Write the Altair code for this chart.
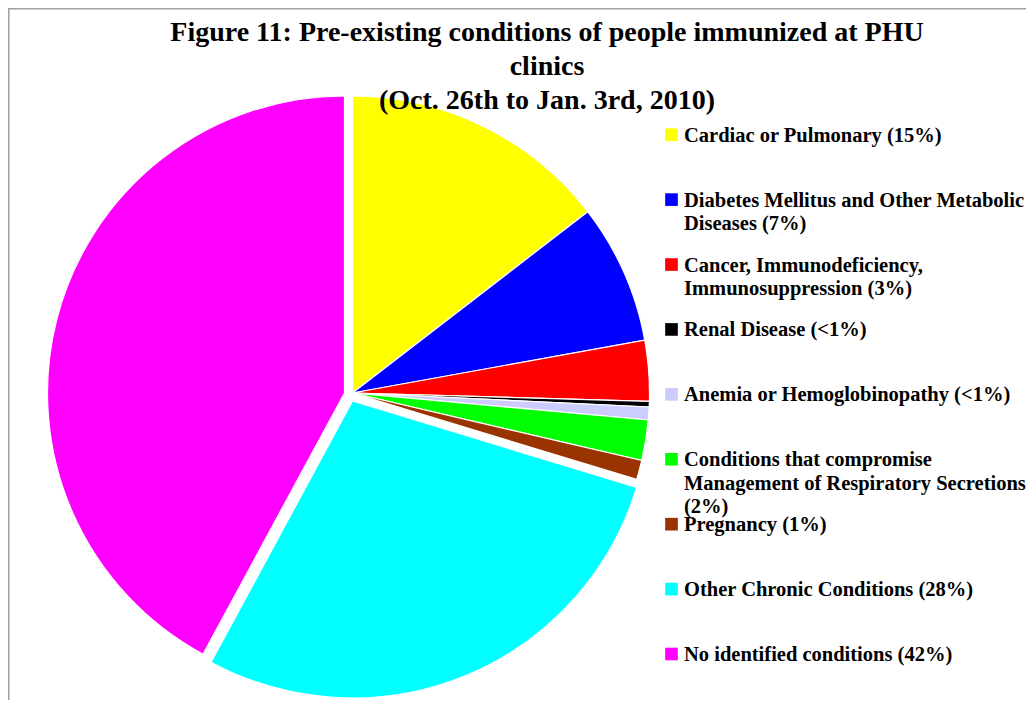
import math
import altair as alt
import pandas as pd

# ---- data ----
categories = [
    "Cardiac or Pulmonary",
    "Diabetes Mellitus and Other Metabolic Diseases",
    "Cancer, Immunodeficiency, Immunosuppression",
    "Renal Disease",
    "Anemia or Hemoglobinopathy",
    "Conditions that compromise Management of Respiratory Secretions",
    "Pregnancy",
    "Other Chronic Conditions",
    "No identified conditions",
]
values = [14.55, 7.6, 3.3, 0.3, 0.7, 2.2, 1.05, 28.2, 42.1]
legend_labels = [
    "Cardiac or Pulmonary (15%)",
    "Diabetes Mellitus and Other Metabolic\nDiseases (7%)",
    "Cancer, Immunodeficiency,\nImmunosuppression (3%)",
    "Renal Disease (<1%)",
    "Anemia or Hemoglobinopathy (<1%)",
    "Conditions that compromise\nManagement of Respiratory Secretions\n(2%)",
    "Pregnancy (1%)",
    "\u00a0Other Chronic Conditions (28%)",
    "No identified conditions (42%)",
]
colors = ["#FFFF00", "#0000FF", "#FF0000", "#000000", "#CCCCFF",
          "#00FF00", "#993300", "#00FFFF", "#FF00FF"]
title_lines = [
    "Figure 11: Pre-existing conditions of people immunized at PHU",
    "clinics",
    "(Oct. 26th to Jan. 3rd, 2010)",
]

# ---- table built from the arrays ----
ends = []
acc = 0.0
for v in values:
    acc += v
    ends.append(acc)
starts = [e - v for e, v in zip(ends, values)]
df = pd.DataFrame({"category": categories, "label": legend_labels,
                   "value": values, "start": starts, "end": ends})
total = sum(values)

W, H = 1018, 692
CX, CY, R = 344.5, 385, 297
FONT = "Liberation Serif"

theta_scale = alt.Scale(domain=[0, total], range=[0, 2 * math.pi])
color_scale = alt.Scale(domain=categories, range=colors)


def arcs(subset, dx, dy):
    return (
        alt.Chart(df)
        .transform_filter(alt.FieldOneOfPredicate(field="category", oneOf=subset))
        .mark_arc(radius=R, stroke="white", strokeWidth=1.2, xOffset=dx, yOffset=dy)
        .encode(
            theta=alt.Theta("start:Q", scale=theta_scale),
            theta2="end:Q",
            color=alt.Color("category:N", scale=color_scale, legend=None),
            x=alt.value(CX),
            y=alt.value(CY),
        )
    )


pie_main = arcs(categories[:7], 0, 0)
pie_cyan = arcs([categories[7]], 0, 8)
pie_magenta = arcs([categories[8]], -8, 0)

y_scale = alt.Scale(type="point", domain=categories, range=[133.7, 653], padding=0)

legend_sq = (
    alt.Chart(df)
    .mark_square(size=160, opacity=1, yOffset=-7)
    .encode(
        x=alt.value(663.5),
        y=alt.Y("category:N", scale=y_scale, axis=None),
        color=alt.Color("category:N", scale=color_scale, legend=None),
    )
)
legend_txt = (
    alt.Chart(df)
    .mark_text(align="left", baseline="alphabetic", font=FONT, fontSize=20.5,
               fontWeight="bold", lineBreak="\n", lineHeight=23.5, color="black")
    .encode(
        x=alt.value(676),
        y=alt.Y("category:N", scale=y_scale, axis=None),
        text="label:N",
    )
)

title = (
    alt.Chart(pd.DataFrame({"t": ["\n".join(title_lines)]}))
    .mark_text(align="center", baseline="alphabetic", font=FONT, fontSize=28,
               fontWeight="bold", lineBreak="\n", lineHeight=34, color="black")
    .encode(x=alt.value(539), y=alt.value(33), text="t:N")
)

frame_df = pd.DataFrame({"a": [0]})
frame_left = alt.Chart(frame_df).mark_rule(color="#A0A0A0", strokeWidth=1.5).encode(
    x=alt.value(0.75), y=alt.value(0), y2=alt.value(H))
frame_top = alt.Chart(frame_df).mark_rule(color="#A0A0A0", strokeWidth=1.5).encode(
    x=alt.value(0), x2=alt.value(W), y=alt.value(0.75))

chart = (
    alt.layer(pie_magenta, pie_cyan, pie_main, legend_sq, legend_txt, title,
              frame_left, frame_top)
    .properties(width=W, height=H, autosize=alt.AutoSizeParams(type="none"),
                padding=0, background="white")
    .configure_view(stroke=None)
)

chart.save("out.html", embed_options={"renderer": "svg", "actions": False})
